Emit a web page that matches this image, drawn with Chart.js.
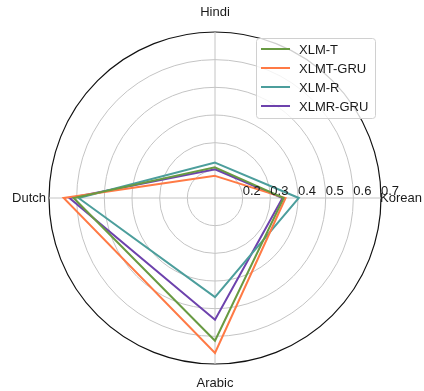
<!DOCTYPE html>
<html>
<head>
<meta charset="utf-8">
<script src="https://cdn.jsdelivr.net/npm/chart.js@4"></script>
<style>
  html, body { margin: 0; padding: 0; background: #fff; }
  #wrap { width: 424px; height: 391px; }
</style>
</head>
<body>
<div id="wrap"><canvas id="radarChart" width="424" height="391"></canvas></div>
<script>
// data
const languages = ["Hindi", "Korean", "Arabic", "Dutch"];
const tickValues = [0.2, 0.3, 0.4, 0.5, 0.6, 0.7];

const xlmT = [0.211, 0.348, 0.616, 0.611];
const xlmtGru = [0.180, 0.355, 0.660, 0.647];
const xlmR = [0.228, 0.403, 0.458, 0.593];
const xlmrGru = [0.204, 0.344, 0.540, 0.626];

const seriesNames = ["XLM-T", "XLMT-GRU", "XLM-R", "XLMR-GRU"];
const seriesColors = ["#689a42", "#ff7a45", "#4c9e9c", "#6d42ad"];

const FONT = '"Liberation Sans", Arial, sans-serif';

/* ===================== LABELS + LEGEND ===================== */
const overlayPlugin = {
    id: "overlay",
    afterDraw(chart) {
        const ctx = chart.ctx;
        const scale = chart.scales.r;
        const R = scale.drawingArea;

        ctx.save();
        ctx.fillStyle = "#1a1a1a";
        ctx.font = "13px " + FONT;

        // tick labels along the Korean axis
        ctx.textAlign = "left";
        ctx.textBaseline = "bottom";
        tickValues.forEach(v => {
            const d = scale.getDistanceFromCenterForValue(v);
            ctx.fillText(v.toFixed(1), scale.xCenter + d, scale.yCenter);
        });

        // category labels
        const specs = [
            { dist: R + 20, align: "center" },
            { dist: R - 1, align: "left" },
            { dist: R + 19, align: "center" },
            { dist: R + 3, align: "right" }
        ];
        ctx.textBaseline = "middle";
        languages.forEach((lab, i) => {
            const p = scale.getPointPosition(i, specs[i].dist);
            ctx.textAlign = specs[i].align;
            ctx.fillText(lab, p.x, p.y);
        });

        // legend box
        const bx = 256.5, by = 38.5, bw = 119, bh = 80;
        ctx.beginPath();
        ctx.roundRect(bx, by, bw, bh, 3);
        ctx.fillStyle = "rgba(255,255,255,0.8)";
        ctx.fill();
        ctx.strokeStyle = "#d0d0d0";
        ctx.lineWidth = 1;
        ctx.stroke();

        ctx.textAlign = "left";
        ctx.textBaseline = "middle";
        chart.data.datasets.forEach((ds, i) => {
            const y = 49 + i * 19;
            ctx.beginPath();
            ctx.moveTo(261, y);
            ctx.lineTo(290, y);
            ctx.strokeStyle = ds.borderColor;
            ctx.lineWidth = 2;
            ctx.stroke();
            ctx.fillStyle = "#1a1a1a";
            ctx.fillText(ds.label, 299, y + 1);
        });
        ctx.restore();
    }
};

function makeDataset(name, values, color) {
    return {
        label: name,
        data: values,
        borderColor: color,
        backgroundColor: "rgba(0,0,0,0)",
        borderWidth: 2,
        pointRadius: 0,
        fill: false
    };
}

const ctx = document.getElementById("radarChart").getContext("2d");

const radarChart = new Chart(ctx, {
    type: "radar",
    data: {
        labels: languages,
        datasets: [
            makeDataset(seriesNames[0], xlmT, seriesColors[0]),
            makeDataset(seriesNames[1], xlmtGru, seriesColors[1]),
            makeDataset(seriesNames[2], xlmR, seriesColors[2]),
            makeDataset(seriesNames[3], xlmrGru, seriesColors[3])
        ]
    },
    options: {
        responsive: false,
        animation: false,
        layout: {
            padding: { left: 49, right: 43, top: 32, bottom: 26 }
        },
        plugins: {
            legend: { display: false },
            tooltip: { enabled: false }
        },
        elements: { line: { tension: 0 } },
        scales: {
            r: {
                min: 0.1,
                max: 0.7,
                ticks: { stepSize: 0.1, display: false },
                pointLabels: { display: false },
                angleLines: { color: "#c4c4c4", lineWidth: 1 },
                grid: {
                    circular: true,
                    color: c => (c.tick && c.tick.value >= 0.69 ? "#111" : "#c4c4c4"),
                    lineWidth: c => (c.tick && c.tick.value >= 0.69 ? 1.2 : 1)
                }
            }
        }
    },
    plugins: [overlayPlugin]
});
</script>
</body>
</html>
